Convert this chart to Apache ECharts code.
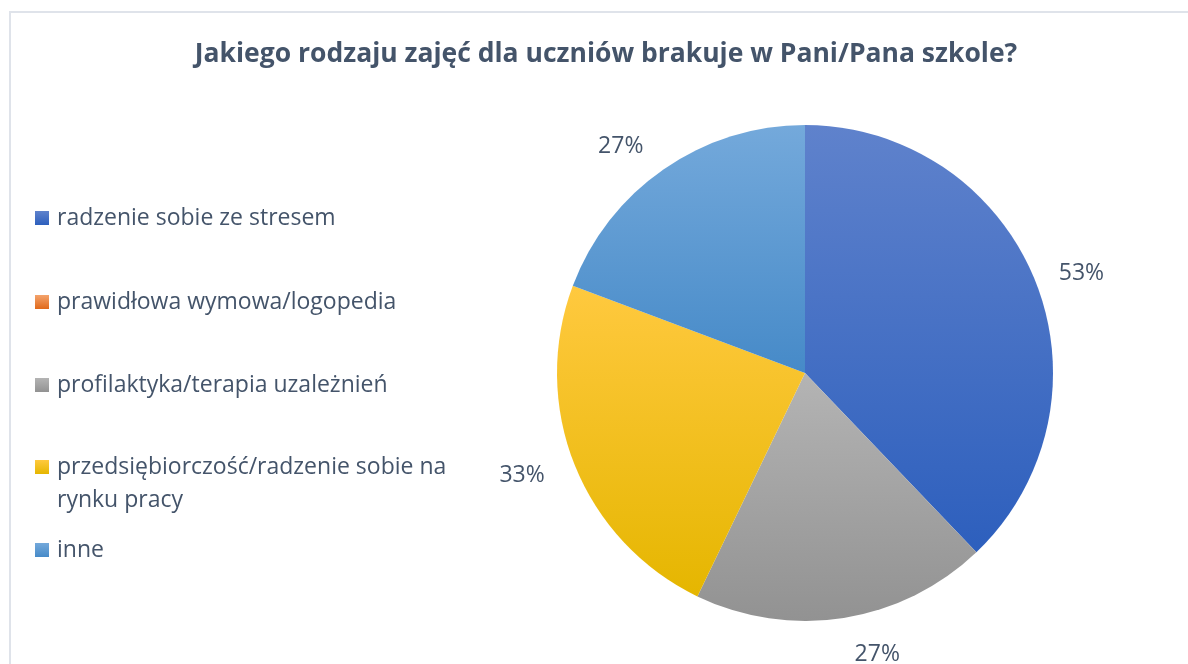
<!DOCTYPE html>
<html>
<head>
<meta charset="utf-8">
<script src="https://cdn.jsdelivr.net/npm/echarts@6/dist/echarts.min.js"></script>
<style>
html,body{margin:0;padding:0;background:#fff;}
#chart{width:1188px;height:664px;}
</style>
</head>
<body>
<div id="chart"></div>
<script>
// ---- data ----
const titleText = 'Jakiego rodzaju zajęć dla uczniów brakuje w Pani/Pana szkole?';
const categories = [
  'radzenie sobie ze stresem',
  'prawidłowa wymowa/logopedia',
  'profilaktyka/terapia uzależnień',
  'przedsiębiorczość/radzenie sobie na rynku pracy',
  'inne'
];
const values = [53, 0, 27, 33, 27];
const legendLines = [
  ['radzenie sobie ze stresem'],
  ['prawidłowa wymowa/logopedia'],
  ['profilaktyka/terapia uzależnień'],
  ['przedsiębiorczość/radzenie sobie na', 'rynku pracy'],
  ['inne']
];

// ---- styles ----
const gradStops = [
  ['#5F82CC', '#2D5FBD'],
  ['#F4A36C', '#E0691A'],
  ['#B4B4B4', '#929292'],
  ['#FFC93F', '#E5B600'],
  ['#74A9DB', '#468AC8']
];
const labelDistances = [20, 27, 37, 27, 27];
const FONT = '"Open Sans", Lato, sans-serif';
const TEXT_COLOR = '#44546A';

function grad(i) {
  return new echarts.graphic.LinearGradient(0, 0, 0, 1, [
    {offset: 0, color: gradStops[i][0]},
    {offset: 1, color: gradStops[i][1]}
  ]);
}

const chart = echarts.init(document.getElementById('chart'), null, {renderer: 'canvas'});

// marker centre y for each legend entry
const legendCenters = [218, 302, 385, 467, 550];

const legends = categories.map((name, i) => {
  const lines = legendLines[i];
  const multi = lines.length > 1;
  // for multi-line entries, a blank leading line keeps the first line level with the marker
  const text = multi ? ['', ...lines].join('\n') : lines.join('\n');
  const lh = multi ? 33 : 28;
  const h = multi ? lh * 3 : lh;
  return {
    data: [name],
    orient: 'vertical',
    left: 35,
    top: legendCenters[i] - h / 2,
    padding: 0,
    itemWidth: 14,
    itemHeight: 14,
    selectedMode: false,
    icon: 'rect',
    formatter: () => text,
    textStyle: {
      fontFamily: FONT,
      fontSize: 23,
      color: TEXT_COLOR,
      lineHeight: lh,
      padding: [0, 0, 0, 3]
    }
  };
});

chart.setOption({
  animation: false,
  backgroundColor: '#fff',
  title: {
    text: titleText,
    left: 606,
    top: 41,
    padding: 0,
    textAlign: 'center',
    textStyle: {
      fontFamily: FONT,
      fontSize: 26.5,
      fontWeight: 'bold',
      color: '#44546A'
    }
  },
  legend: legends,
  graphic: [{
    type: 'rect',
    shape: {x: 10, y: 12, width: 1400, height: 1000},
    style: {fill: 'none', stroke: '#DFE3EA', lineWidth: 2},
    silent: true,
    z: -1
  }],
  series: [{
    type: 'pie',
    center: [805, 373],
    radius: 248,
    startAngle: 90,
    clockwise: true,
    avoidLabelOverlap: false,
    label: {
      show: true,
      position: 'outside',
      formatter: '{c}%',
      fontFamily: FONT,
      fontSize: 23,
      color: TEXT_COLOR
    },
    labelLine: {show: false, length: 27, length2: 0},
    emphasis: {disabled: true},
    data: categories.map((name, i) => ({
      name: name,
      value: values[i],
      itemStyle: {color: grad(i), borderWidth: 0},
      label: {show: values[i] > 0},
      labelLine: {show: false, length: labelDistances[i], length2: 0}
    }))
  }]
});
</script>
</body>
</html>
